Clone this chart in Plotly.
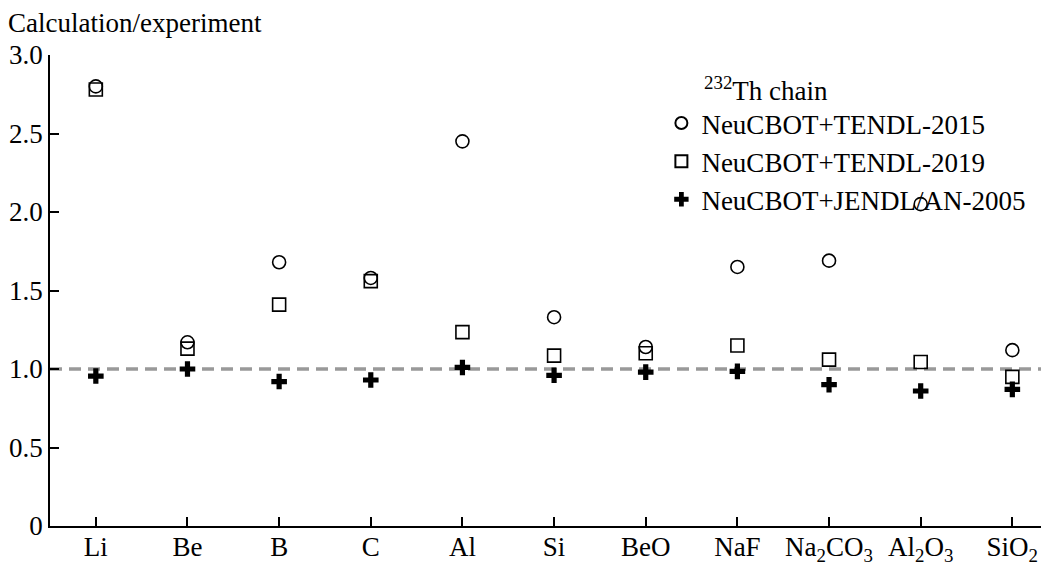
import plotly.graph_objects as go

categories = ["Li", "Be", "B", "C", "Al", "Si", "BeO", "NaF",
              "Na<sub>2</sub>CO<sub>3</sub>", "Al<sub>2</sub>O<sub>3</sub>", "SiO<sub>2</sub>"]
tendl2015 = [2.80, 1.17, 1.68, 1.58, 2.45, 1.33, 1.14, 1.65, 1.69, 2.05, 1.12]
tendl2019 = [2.78, 1.13, 1.41, 1.56, 1.235, 1.085, 1.10, 1.15, 1.06, 1.045, 0.95]
jendl2005 = [0.955, 1.00, 0.92, 0.93, 1.01, 0.96, 0.98, 0.985, 0.90, 0.86, 0.87]
yticks = [0, 0.5, 1.0, 1.5, 2.0, 2.5, 3.0]
yticklabels = ["0", "0.5", "1.0", "1.5", "2.0", "2.5", "3.0"]

xs = list(range(len(categories)))
FONT = "Liberation Serif, Times New Roman, serif"
FS = 27

fig = go.Figure()
fig.add_shape(type="line", xref="x", yref="y", x0=-0.5, x1=10.4, y0=1.0, y1=1.0,
              line=dict(color="#999999", width=3.5, dash="12px,7px"), layer="below")
fig.add_trace(go.Scatter(x=xs, y=tendl2015, mode="markers", name="NeuCBOT+TENDL-2015",
                         marker=dict(symbol="circle-open", size=13, color="black",
                                     line=dict(width=1.6, color="black"))))
fig.add_trace(go.Scatter(x=xs, y=tendl2019, mode="markers", name="NeuCBOT+TENDL-2019",
                         marker=dict(symbol="square-open", size=13, color="black",
                                     line=dict(width=1.6, color="black"))))
fig.add_trace(go.Scatter(x=xs, y=jendl2005, mode="markers", name="NeuCBOT+JENDL/AN-2005",
                         marker=dict(symbol="cross", size=13, color="black",
                                     line=dict(width=0))))

fig.update_layout(
    width=1041, height=555,
    margin=dict(l=42, r=0, t=47, b=37, autoexpand=False),
    paper_bgcolor="white", plot_bgcolor="white",
    font=dict(family=FONT, size=FS, color="black"),
    showlegend=True,
    legend=dict(x=0.612, y=0.9066, xanchor="left", yanchor="top",
                bgcolor="rgba(0,0,0,0)", font=dict(family=FONT, size=FS),
                tracegroupgap=0, itemsizing="constant", itemwidth=30),
    xaxis=dict(range=[-0.5, 10.4], tickmode="array", tickvals=xs, ticktext=categories,
               showgrid=False, zeroline=False, showline=True, linecolor="black", linewidth=1.5,
               ticks="inside", ticklen=9, tickwidth=1.5, tickcolor="black", automargin=False,
               ticklabelstandoff=-4,
               tickfont=dict(family=FONT, size=FS)),
    yaxis=dict(range=[0, 3.0], tickmode="array", tickvals=yticks, ticktext=yticklabels,
               showgrid=False, zeroline=False, showline=True, linecolor="black", linewidth=1.5,
               ticks="inside", ticklen=9, tickwidth=1.5, tickcolor="black", automargin=False,
               tickfont=dict(family=FONT, size=FS)),
    annotations=[
        dict(text="Calculation/experiment", xref="paper", yref="paper",
             x=0, y=1, xshift=-44, yshift=49, xanchor="left", yanchor="top",
             showarrow=False, font=dict(family=FONT, size=FS)),
        dict(text="<sup>232</sup>Th chain", xref="paper", yref="paper",
             x=0.653, y=0.928, xanchor="left", yanchor="middle",
             showarrow=False, font=dict(family=FONT, size=FS)),
    ],
)

fig.write_html("out.html")
